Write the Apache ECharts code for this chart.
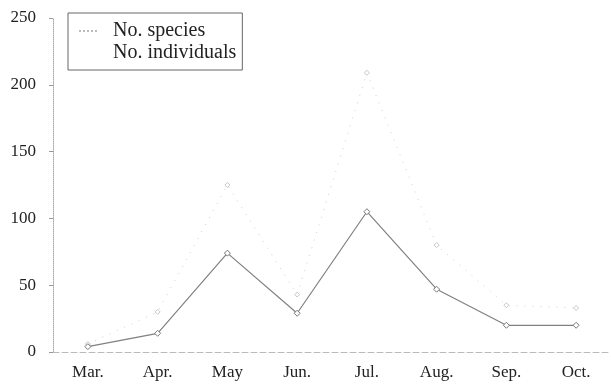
<!DOCTYPE html>
<html>
<head>
<meta charset="utf-8">
<script src="https://cdn.jsdelivr.net/npm/echarts@6/dist/echarts.min.js"></script>
<style>
  html, body { margin: 0; padding: 0; background: #fff; }
  #chart { width: 611px; height: 384px; }
</style>
</head>
<body>
<div id="chart"></div>
<script>
// Monthly survey counts
const months = ['Mar.', 'Apr.', 'May', 'Jun.', 'Jul.', 'Aug.', 'Sep.', 'Oct.'];
const species = [6, 30, 125, 43, 209, 80, 35, 33];
const individuals = [4, 14, 74, 29, 105, 47, 20, 20];
const yTicks = [0, 50, 100, 150, 200, 250];

const serif = '"Liberation Serif", "DejaVu Serif", serif';

const chart = echarts.init(document.getElementById('chart'));
chart.setOption({
  animation: false,
  backgroundColor: '#fff',
  grid: { left: 53, right: 0, top: 18, bottom: 32 },
  legend: {
    orient: 'vertical',
    left: 68,
    top: 13,
    padding: [8, 6, 7, 10],
    itemGap: 2,
    itemWidth: 20,
    itemHeight: 14,
    borderColor: '#666',
    borderWidth: 1,
    backgroundColor: '#fff',
    textStyle: { fontFamily: serif, fontSize: 20, color: '#222', padding: [0, 0, 0, 9] },
    data: [
      { name: 'No. species', itemStyle: { opacity: 0 }, lineStyle: { type: [2, 2], color: '#bbb' } },
      { name: 'No. individuals', itemStyle: { opacity: 0 }, lineStyle: { opacity: 0 } }
    ]
  },
  xAxis: {
    type: 'category',
    data: months,
    boundaryGap: true,
    axisLine: { lineStyle: { color: '#bbb', type: [6, 3], width: 1 } },
    axisTick: { show: false },
    axisLabel: { fontFamily: serif, fontSize: 17, color: '#222', margin: 12 },
    splitLine: { show: false }
  },
  yAxis: {
    type: 'value',
    min: yTicks[0],
    max: yTicks[yTicks.length - 1],
    interval: 50,
    axisLine: { show: true, lineStyle: { color: '#aaa', type: 'dotted', width: 1 } },
    axisTick: { show: true, length: 4, lineStyle: { color: '#999' } },
    axisLabel: { fontFamily: serif, fontSize: 17, color: '#222', margin: 17 },
    splitLine: { show: false }
  },
  series: [
    {
      name: 'No. species',
      type: 'line',
      data: species,
      symbol: 'diamond',
      symbolSize: 5,
      showSymbol: true,
      lineStyle: { color: '#d0d0d0', width: 1, type: [1, 7] },
      itemStyle: { color: '#fff', borderColor: '#c8c8c8', borderWidth: 1 },
      z: 1
    },
    {
      name: 'No. individuals',
      type: 'line',
      data: individuals,
      symbol: 'diamond',
      symbolSize: 6,
      lineStyle: { color: '#808080', width: 1.2 },
      itemStyle: { color: '#fff', borderColor: '#777', borderWidth: 1 },
      z: 2
    }
  ]
});
</script>
</body>
</html>
